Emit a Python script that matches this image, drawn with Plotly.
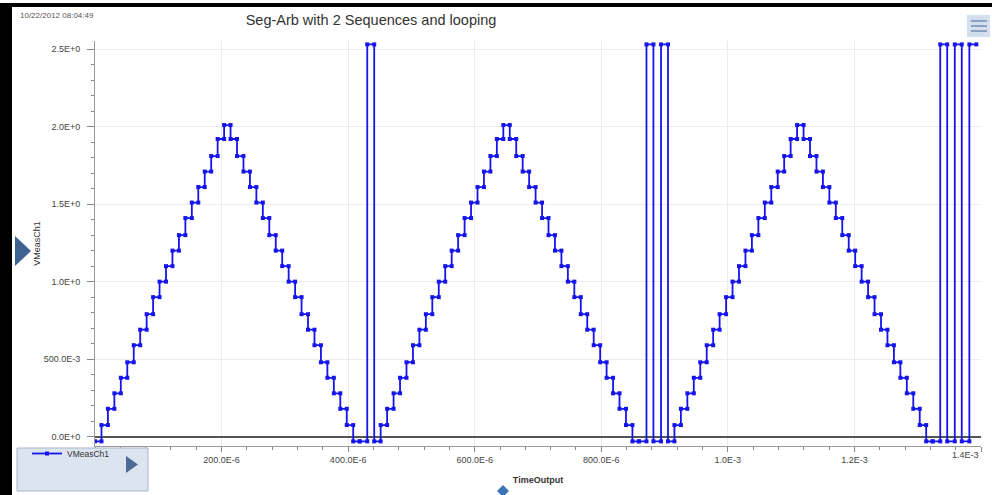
import plotly.graph_objects as go

# ---------------- data ----------------
ramp_levels_V = [-0.03, 0.075, 0.18, 0.28, 0.38, 0.48, 0.59, 0.69, 0.79, 0.90,
                 1.00, 1.10, 1.20, 1.30, 1.41, 1.51, 1.61, 1.71, 1.81, 1.92,
                 2.01,
                 1.92, 1.81, 1.71, 1.61, 1.51, 1.41, 1.30, 1.20, 1.10, 1.00,
                 0.90, 0.79, 0.69, 0.59, 0.48, 0.38, 0.28, 0.18, 0.075, -0.03]
ramp_step_s = 10.2e-6
pulse_levels_V = [-0.03, 2.53]
pulse_dwell_s = [12e-6, 11e-6]
segment_sequence = ["ramp", "pulse",
                    "ramp", "pulse", "pulse",
                    "ramp", "pulse", "pulse", "pulse"]

y_tick_vals = [0, 0.5, 1.0, 1.5, 2.0, 2.5]
y_tick_text = ["0.0E+0", "500.0E-3", "1.0E+0", "1.5E+0", "2.0E+0", "2.5E+0"]
x_tick_vals = [200e-6, 400e-6, 600e-6, 800e-6, 1.0e-3, 1.2e-3, 1.4e-3]
x_tick_text = ["200.0E-6", "400.0E-6", "600.0E-6", "800.0E-6", "1.0E-3", "1.2E-3", ""]
x_end_tick_vals = [1.4e-3]
x_end_tick_text = ["1.4E-3"]

series_name = "VMeasCh1"
title_text = "Seg-Arb with 2 Sequences and looping"
timestamp_text = "10/22/2012 08:04:49"

# ---------------- build sampled series from segments ----------------
t, v = [], []
cursor = 0.0
for seg in segment_sequence:
    if seg == "ramp":
        steps = [(lvl, ramp_step_s) for lvl in ramp_levels_V]
    else:
        steps = list(zip(pulse_levels_V, pulse_dwell_s))
    for lvl, dwell in steps:
        t += [cursor, cursor + dwell]
        v += [lvl, lvl]
        cursor += dwell

# ---------------- layout geometry ----------------
W, H = 992, 495
L, R, T, B = 95, 11, 41, 49
PW = W - L - R
PH = H - T - B


def px_x(p):
    return (p - L) / PW


def px_y(p):
    return (H - B - p) / PH


BLUE = "rgb(20,20,235)"
FONT = "Liberation Sans, Arial, sans-serif"
X_RANGE = [0, 1.4e-3]

fig = go.Figure()
fig.add_trace(go.Scatter(
    x=t, y=v, name=series_name, mode="lines+markers",
    line=dict(color=BLUE, width=1.8),
    marker=dict(color=BLUE, size=4, symbol="square"),
    showlegend=True,
))
# empty trace that only carries the end-of-axis label axis
fig.add_trace(go.Scatter(x=[], y=[], xaxis="x2", yaxis="y", showlegend=False,
                         hoverinfo="skip"))

shapes = []
# black frame of the screenshot
shapes.append(dict(type="rect", xref="paper", yref="paper",
                   x0=px_x(0), x1=px_x(W), y0=px_y(3), y1=px_y(7),
                   fillcolor="black", line=dict(width=0), layer="above"))
shapes.append(dict(type="rect", xref="paper", yref="paper",
                   x0=px_x(0), x1=px_x(12), y0=px_y(3), y1=px_y(H),
                   fillcolor="black", line=dict(width=0), layer="above"))
# left expander arrow
shapes.append(dict(type="path", xref="paper", yref="paper",
                   path=f"M {px_x(15)},{px_y(236)} L {px_x(15)},{px_y(266)} L {px_x(31)},{px_y(251)} Z",
                   fillcolor="#3f6390", line=dict(width=0)))
# legend panel
shapes.append(dict(type="rect", xref="paper", yref="paper",
                   x0=px_x(17), x1=px_x(148), y0=px_y(448), y1=px_y(491),
                   fillcolor="#dce4ef", line=dict(color="#a9b7c9", width=1)))
shapes.append(dict(type="path", xref="paper", yref="paper",
                   path=f"M {px_x(126)},{px_y(456)} L {px_x(126)},{px_y(473)} L {px_x(138)},{px_y(464.5)} Z",
                   fillcolor="#4d6c94", line=dict(width=0)))
# bottom diamond marker
shapes.append(dict(type="path", xref="paper", yref="paper",
                   path=f"M {px_x(503)},{px_y(485)} L {px_x(509)},{px_y(491)} L {px_x(503)},{px_y(497)} L {px_x(497)},{px_y(491)} Z",
                   fillcolor="#3d74b5", line=dict(width=0)))
# hamburger menu icon
shapes.append(dict(type="rect", xref="paper", yref="paper",
                   x0=px_x(967), x1=px_x(990), y0=px_y(15), y1=px_y(37),
                   fillcolor="#d3dfee", line=dict(width=0)))
for yy in (21, 26, 31):
    shapes.append(dict(type="line", xref="paper", yref="paper",
                       x0=px_x(971), x1=px_x(987), y0=px_y(yy), y1=px_y(yy),
                       line=dict(color="#8aa2c0", width=2)))

fig.update_layout(
    width=W, height=H,
    margin=dict(l=L, r=R, t=T, b=B, autoexpand=False),
    paper_bgcolor="white", plot_bgcolor="white",
    font=dict(family=FONT, size=9, color="#444"),
    title=dict(text=title_text, xref="container", yref="container",
               x=371 / W, y=1 - 20 / H, xanchor="center", yanchor="middle",
               font=dict(family=FONT, size=14.5, color="#333")),
    showlegend=True,
    legend=dict(x=px_x(27), y=px_y(439), xanchor="left", yanchor="top",
                bgcolor="rgba(0,0,0,0)", borderwidth=0,
                font=dict(family=FONT, size=8.5, color="#333"),
                itemwidth=30),
    shapes=shapes,
    annotations=[dict(text=timestamp_text, xref="paper", yref="paper",
                      x=px_x(18), y=px_y(16), xanchor="left", yanchor="middle",
                      showarrow=False, font=dict(family=FONT, size=8, color="#555"))],
    xaxis2=dict(overlaying="x", anchor="y", side="bottom", range=X_RANGE,
                tickmode="array", tickvals=x_end_tick_vals, ticktext=x_end_tick_text,
                ticklabelposition="outside left", ticklabelshift=-2,
                ticks="outside", ticklen=5, tickcolor="rgba(0,0,0,0)",
                showline=False, showgrid=False, zeroline=False,
                tickfont=dict(family=FONT, size=9, color="#444")),
)

fig.layout.xaxis.update(
    range=X_RANGE,
    tickmode="array", tickvals=x_tick_vals, ticktext=x_tick_text,
    ticks="outside", ticklen=5, tickcolor="#888",
    showline=True, linecolor="#999", linewidth=1,
    showgrid=True, gridcolor="#ececec", gridwidth=1,
    zeroline=False,
    tickfont=dict(family=FONT, size=9, color="#444"),
    minor=dict(dtick=40e-6, tick0=0, ticks="outside", ticklen=3,
               tickcolor="#888", showgrid=False),
    title=dict(text="<b>TimeOutput</b>", standoff=12,
               font=dict(family=FONT, size=9, color="#333")),
)
fig.update_yaxes(
    range=[-0.06, 2.552],
    tickmode="array", tickvals=y_tick_vals, ticktext=y_tick_text,
    ticks="outside", ticklen=7, tickcolor="#888",
    showline=True, linecolor="#999", linewidth=1,
    showgrid=True, gridcolor="#ececec", gridwidth=1,
    zeroline=True, zerolinecolor="#555", zerolinewidth=1.5,
    tickfont=dict(family=FONT, size=9, color="#444"),
    ticklabelstandoff=5,
    minor=dict(dtick=0.1, tick0=0, ticks="outside", ticklen=3,
               tickcolor="#888", showgrid=False),
    title=dict(text="VMeasCh1", standoff=1,
               font=dict(family=FONT, size=9, color="#333")),
)

fig.write_html("out.html",
               config={"displayModeBar": False},
               post_script="document.body.style.margin='0px';"
                           "document.body.style.overflow='hidden';")
